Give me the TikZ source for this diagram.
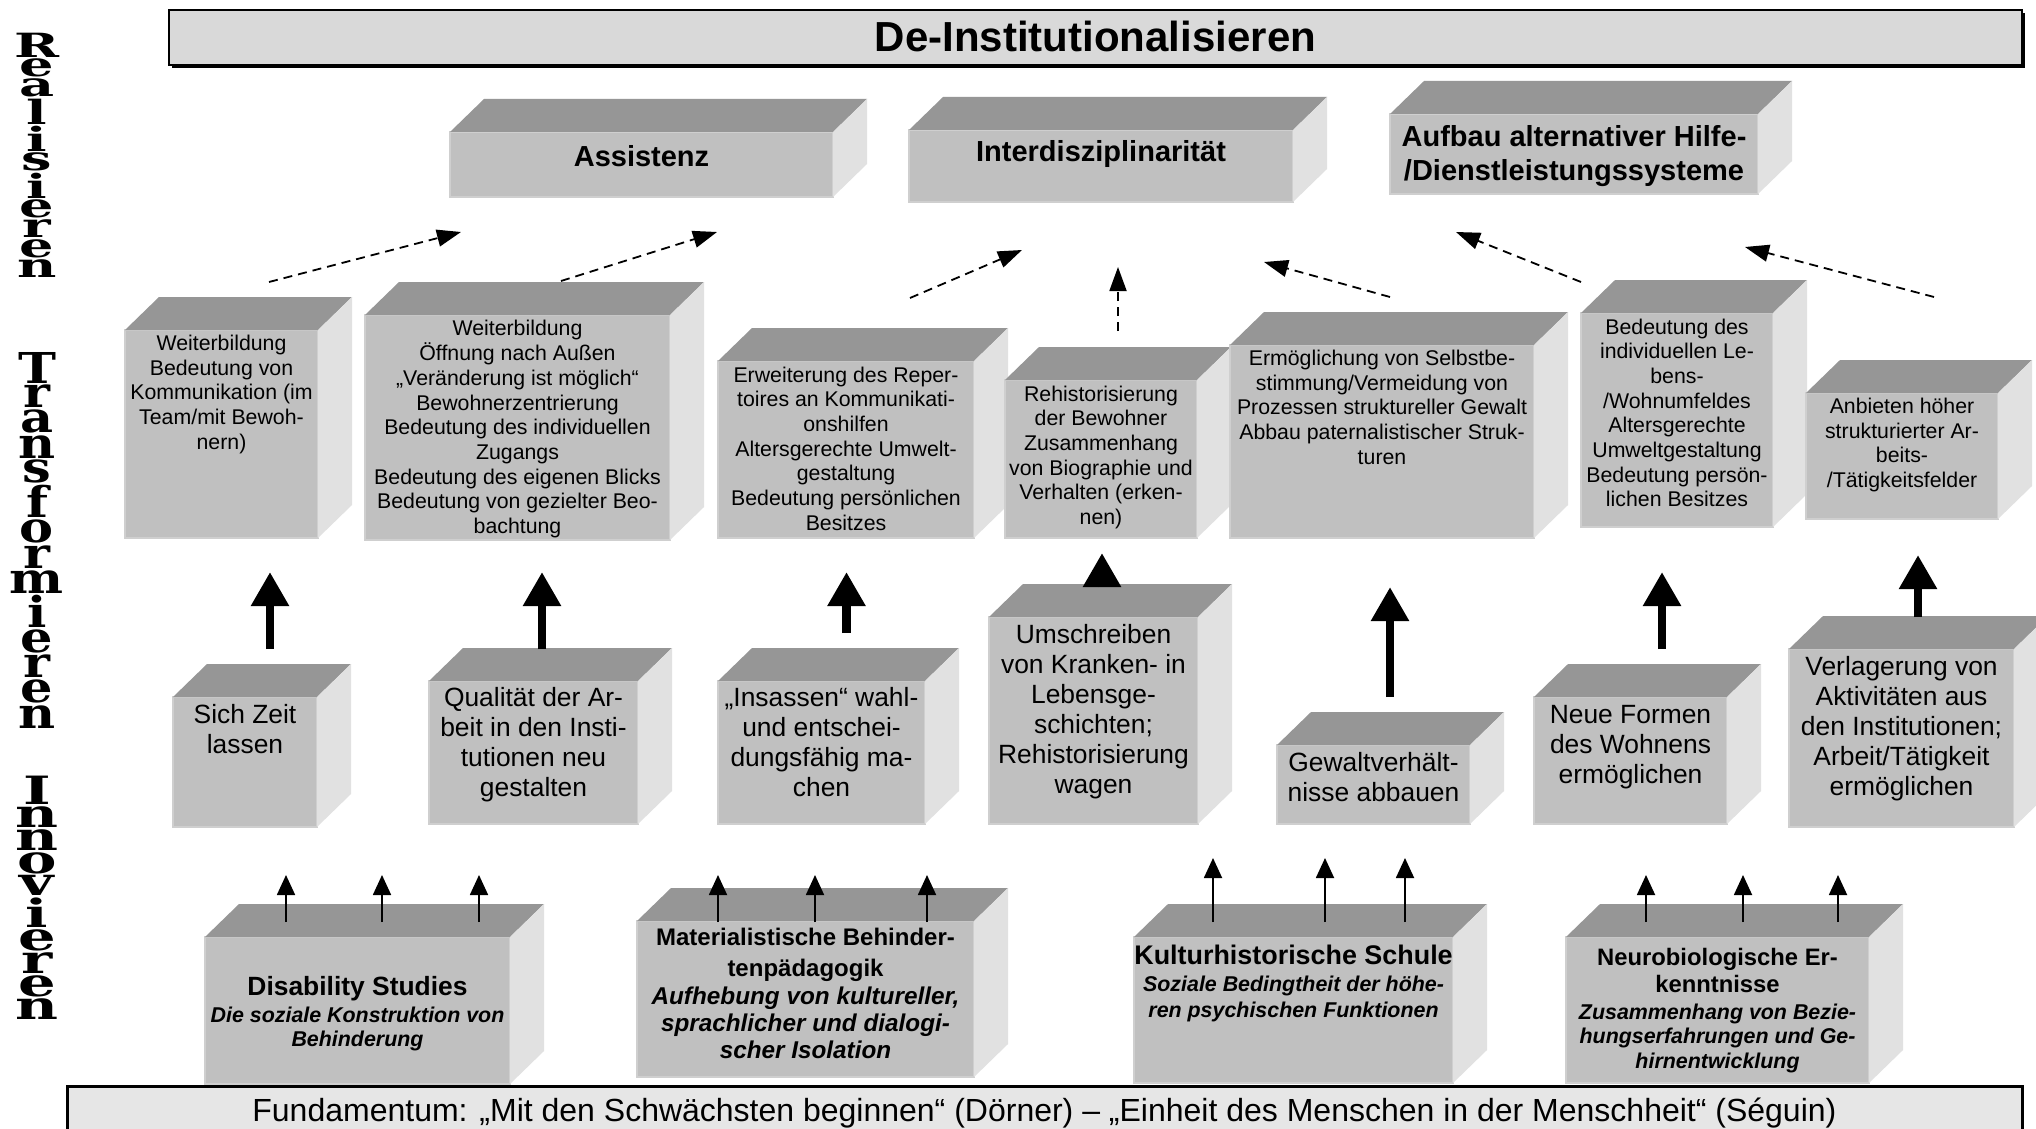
\documentclass[tikz,border=0pt]{standalone}
\usepackage{fontspec}
\setmainfont{Liberation Sans}
\newfontfamily\slabfont{DejaVu Serif}
\usepackage{graphicx}
\usetikzlibrary{arrows.meta}

\definecolor{frontgray}{HTML}{C0C0C0}
\definecolor{topgray}{HTML}{969696}
\definecolor{sidegray}{HTML}{E1E1E1}
\definecolor{edgegray}{HTML}{CFCFCF}
\definecolor{bargray}{HTML}{D9D9D9}
\definecolor{basegray}{HTML}{E6E6E6}

\tikzset{
  front/.style={draw=edgegray, line width=2pt, fill=frontgray, inner sep=0pt, outer sep=0pt, anchor=north west},
  topface/.style={fill=topgray},
  sideface/.style={fill=sidegray},
  dasharrow/.style={dash pattern=on 9pt off 6pt, line width=1.8pt, -{Triangle[length=24pt,width=17pt]}},
  bigarrow/.style={line width=8.5pt, -{Triangle[length=34pt,width=36pt]}},
  smallarrow/.style={line width=1.8pt, -{Triangle[length=20pt,width=18pt]}}
}

% fonts of the rows
\newcommand\fA{\fontsize{29}{34}\selectfont\bfseries}
\newcommand\fB{\fontsize{21.3}{24.7}\selectfont}
\newcommand\fC{\fontsize{26.4}{30}\selectfont}
\newcommand\fDi{\fontsize{21.4}{24.5}\selectfont\itshape}
\newcommand\fMi{\fontsize{24.3}{27}\selectfont\itshape}
\newcommand\fSide{\slabfont\bfseries\fontsize{60}{60}\selectfont}

% #1 font, #2 name, #3 x1, #4 y1, #5 x2, #6 y2, #7 first baseline, #8 text
\newcommand{\blockbox}[8]{%
  \pgfmathsetmacro\cw{#5-#3}%
  \pgfmathsetmacro\ch{#6-#4}%
  \pgfmathsetmacro\cpad{#7-#4}%
  \node[front, minimum width=\cw pt, minimum height=\ch pt] (#2) at (#3,#4)
    {\parbox[c][\ch pt][t]{\cw pt}{#1\vspace*{\dimexpr\cpad pt-\ht\strutbox\relax}%
      \makebox[\linewidth]{\begin{tabular}[t]{@{}c@{}}#8\end{tabular}}\par}};
  \fill[topface] (#2.north west) -- ++(34,-33) -- ([shift={(34,-33)}]#2.north east) -- (#2.north east) -- cycle;
  \fill[sideface] (#2.north east) -- ++(34,-33) -- ([shift={(34,-33)}]#2.south east) -- (#2.south east) -- cycle;
}

\begin{document}
\begin{tikzpicture}[x=1pt,y=-1pt]
\useasboundingbox (0,0) rectangle (2036,1129);
\fill[white] (0,0) rectangle (2036,1129);
\clip (0,0) rectangle (2036,1129);

% stacked side labels
\node[inner sep=0pt] (realis) at (37,155) {\resizebox*{45pt}{244pt}{\fSide\shortstack{R\\e\\a\\l\\i\\s\\i\\e\\r\\e\\n}}};
\node[inner sep=0pt] (transf) at (37,540) {\resizebox*{54pt}{376pt}{\fSide\shortstack{T\\r\\a\\n\\s\\f\\o\\r\\m\\i\\e\\r\\e\\n}}};
\node[inner sep=0pt] (innov) at (37,898) {\resizebox*{43pt}{243pt}{\fSide\shortstack{I\\n\\n\\o\\v\\i\\e\\r\\e\\n}}};

% title bar
\fill[black] (172,13) rectangle (2025,68);
\node[draw=black, line width=1.5pt, fill=bargray, anchor=north west, minimum width=1853pt, minimum height=55pt,
  inner sep=0pt, outer sep=0pt, text height=31pt, text depth=2pt, font=\fontsize{42}{48}\selectfont\bfseries]
  (deinst) at (169,10) {De-Institutionalisieren};

% Realisieren
\blockbox{\fA}{assist}{450}{132}{833}{197}{166}{Assistenz}
\blockbox{\fA}{interdis}{909}{130}{1293}{202}{161}{Interdisziplinarität}
\blockbox{\fA}{aufbau}{1390}{114}{1758}{194}{146.5}{Aufbau alternativer Hilfe-\\/Dienstleistungssysteme}

% Transformieren
\blockbox{\fB}{kommu}{125}{330}{318}{538}{350.5}{Weiterbildung\\Bedeutung von\\Kommunikation (im\\Team/mit Bewoh-\\nern)}
\blockbox{\fB}{oeffnung}{365}{315}{670}{540}{335.5}{Weiterbildung\\Öffnung nach Außen\\„Veränderung ist möglich“\\Bewohnerzentrierung\\Bedeutung des individuellen\\Zugangs\\Bedeutung des eigenen Blicks\\Bedeutung von gezielter Beo-\\bachtung}
\blockbox{\fB}{repert}{718}{361}{974}{538}{382}{Erweiterung des Reper-\\toires an Kommunikati-\\onshilfen\\Altersgerechte Umwelt-\\gestaltung\\Bedeutung persönlichen\\Besitzes}
\blockbox{\fB}{rehist}{1005}{380}{1197}{538}{401}{Rehistorisierung\\der Bewohner\\Zusammenhang\\von Biographie und\\Verhalten (erken-\\nen)}
\blockbox{\fB}{selbst}{1230}{345}{1534}{538}{365.5}{Ermöglichung von Selbstbe-\\stimmung/Vermeidung von\\Prozessen struktureller Gewalt\\Abbau paternalistischer Struk-\\turen}
\blockbox{\fB}{lebens}{1581}{313}{1773}{527}{334}{Bedeutung des\\individuellen Le-\\bens-\\/Wohnumfeldes\\Altersgerechte\\Umweltgestaltung\\Bedeutung persön-\\lichen Besitzes}
\blockbox{\fB}{taetig}{1806}{393}{1998}{519}{413.5}{Anbieten höher\\strukturierter Ar-\\beits-\\/Tätigkeitsfelder}

% Innovieren
\blockbox{\fC}{zeit}{173}{697}{317}{827}{723}{Sich Zeit\\lassen}
\blockbox{\fC}{quali}{429}{681}{638}{824}{706}{Qualität der Ar-\\beit in den Insti-\\tutionen neu\\gestalten}
\blockbox{\fC}{insassen}{718}{681}{925}{824}{706}{„Insassen“ wahl-\\und entschei-\\dungsfähig ma-\\chen}
\blockbox{\fC}{umschr}{989}{617}{1198}{824}{643}{Umschreiben\\von Kranken- in\\Lebensge-\\schichten;\\Rehistorisierung\\wagen}
\blockbox{\fC}{gewalt}{1277}{745}{1470}{824}{771}{Gewaltverhält-\\nisse abbauen}
\blockbox{\fC}{wohnen}{1534}{697}{1727}{824}{723}{Neue Formen\\des Wohnens\\ermöglichen}
\blockbox{\fC}{verlag}{1789}{649}{2014}{827}{675}{Verlagerung von\\Aktivitäten aus\\den Institutionen;\\Arbeit/Tätigkeit\\ermöglichen}

% Grundlagen
\blockbox{\fontsize{26.4}{30}\selectfont\bfseries}{disab}{205}{937}{510}{1084}{995}{Disability Studies\\[-2.6pt]\fDi Die soziale Konstruktion von\\[-5.5pt]\fDi Behinderung}
\blockbox{\fontsize{24}{30}\selectfont\bfseries}{materi}{637}{921}{974}{1077}{945}{Materialistische Behinder-\\[1pt]tenpädagogik\\[-2pt]\fMi Aufhebung von kultureller,\\[-3pt]\fMi sprachlicher und dialogi-\\[-3pt]\fMi scher Isolation}
\blockbox{\fontsize{26.9}{30}\selectfont\bfseries}{kultur}{1134}{937}{1453}{1083}{964}{Kulturhistorische Schule\\[-3pt]\fDi Soziale Bedingtheit der höhe-\\[-4pt]\fDi ren psychischen Funktionen}
\blockbox{\fontsize{23.8}{30}\selectfont\bfseries}{neuro}{1566}{937}{1869}{1083}{965}{Neurobiologische Er-\\[-3pt]kenntnisse\\[-3pt]\fDi Zusammenhang von Bezie-\\[-5.5pt]\fDi hungserfahrungen und Ge-\\[-5.5pt]\fDi hirnentwicklung}

% footer
\node[draw=black, line width=3pt, fill=basegray, anchor=north west, minimum width=1955pt, minimum height=54pt,
  inner sep=0pt, outer sep=0pt, text height=24pt, text depth=7pt, font=\fontsize{32}{38}\selectfont]
  (fundament) at (67,1086) {Fundamentum: „Mit den Schwächsten beginnen“ (Dörner) – „Einheit des Menschen in der Menschheit“ (Séguin)};

% thin arrows
\foreach \dx in {81,177,274} \draw[smallarrow] ([shift={(\dx,-15)}]disab.north west) -- ++(0,-47);
\foreach \dx in {81,178,290} \draw[smallarrow] ([shift={(\dx,1)}]materi.north west) -- ++(0,-47);
\foreach \dx in {79,191,271} \draw[smallarrow] ([shift={(\dx,-15)}]kultur.north west) -- ++(0,-64);
\foreach \dx in {80,177,272} \draw[smallarrow] ([shift={(\dx,-15)}]neuro.north west) -- ++(0,-47);

% thick arrows
\draw[bigarrow] ([shift={(97,-48)}]zeit.north west) -- ++(0,-77);
\draw[bigarrow] ([shift={(113,-32)}]quali.north west) -- ++(0,-77);
\draw[bigarrow] ([shift={(128.5,-48)}]insassen.north west) -- ++(0,-61);
\draw[bigarrow] ([shift={(113,-30)}]umschr.north west) -- ++(0,-34);
\draw[bigarrow] ([shift={(113,-48)}]gewalt.north west) -- ++(0,-110);
\draw[bigarrow] ([shift={(128,-48)}]wohnen.north west) -- ++(0,-77);
\draw[bigarrow] ([shift={(129,-32)}]verlag.north west) -- ++(0,-62);

% dashed arrows
\draw[dasharrow] ([shift={(144,-48)}]kommu.north west) -- ([shift={(11,35)}]assist.south west);
\draw[dasharrow] ([shift={(196,-34)}]oeffnung.north west) -- ([shift={(267,35)}]assist.south west);
\draw[dasharrow] ([shift={(192,-63)}]repert.north west) -- ([shift={(113,48)}]interdis.south west);
\draw[dasharrow] ([shift={(113,-49)}]rehist.north west) -- ([shift={(209,65)}]interdis.south west);
\draw[dasharrow] ([shift={(160,-48)}]selbst.north west) -- ([shift={(355,60)}]interdis.south west);
\draw[dasharrow] ([shift={(0,-31)}]lebens.north west) -- ([shift={(66,38)}]aufbau.south west);
\draw[dasharrow] ([shift={(128,-96)}]taetig.north west) -- ([shift={(355,53)}]aufbau.south west);
\end{tikzpicture}
\end{document}
